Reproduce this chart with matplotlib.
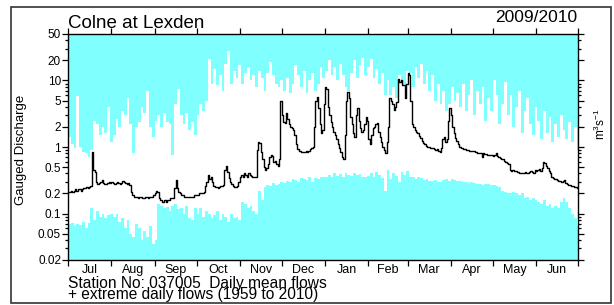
"""Colne at Lexden 2009/2010 hydrograph with extreme daily flows."""

import numpy as np
import matplotlib

matplotlib.use("Agg")
import matplotlib.pyplot as plt
from matplotlib.patches import Rectangle
from matplotlib.ticker import FixedLocator, LogLocator, NullFormatter

plt.rcParams["font.family"] = ["Liberation Sans", "DejaVu Sans"]
plt.rcParams["mathtext.fontset"] = "custom"
plt.rcParams["mathtext.rm"] = "Liberation Sans"
plt.rcParams["mathtext.it"] = "Liberation Sans"

months = ["Jul", "Aug", "Sep", "Oct", "Nov", "Dec", "Jan", "Feb", "Mar", "Apr", "May", "Jun"]
month_days = [31, 31, 30, 31, 30, 31, 31, 28, 31, 30, 31, 30]

ytick_values = [0.02, 0.05, 0.1, 0.2, 0.5, 1, 2, 5, 10, 20, 50]
ytick_labels = ["0.02", "0.05", "0.1", "0.2", "0.5", "1", "2", "5", "10", "20", "50"]

# daily mean flow, m3/s, 1 Jul 2009 - 30 Jun 2010
mean_jul = [0.21, 0.21, 0.22, 0.21, 0.22, 0.23, 0.22, 0.23, 0.23, 0.22,
            0.23, 0.24, 0.24, 0.25, 0.24, 0.25, 0.26, 0.85, 0.45, 0.42,
            0.30, 0.28, 0.29, 0.30, 0.32, 0.29, 0.28, 0.28, 0.29, 0.30, 0.29]
mean_aug = [0.30, 0.29, 0.28, 0.29, 0.30, 0.29, 0.28, 0.29, 0.31, 0.30, 0.29, 0.28, 0.29, 0.27,
            0.21, 0.19, 0.18, 0.18, 0.18, 0.17, 0.18, 0.18, 0.17, 0.17, 0.18, 0.18, 0.17, 0.18,
            0.18, 0.18, 0.19]
mean_sep = [0.20, 0.22, 0.21, 0.17, 0.16, 0.15, 0.15, 0.16, 0.15, 0.16, 0.16, 0.17, 0.17,
            0.17, 0.24, 0.32, 0.24, 0.21,
            0.20, 0.19, 0.19, 0.18, 0.18, 0.18, 0.18, 0.18, 0.18, 0.18, 0.19, 0.19]
mean_oct = [0.19, 0.19, 0.20, 0.20, 0.20, 0.21, 0.26, 0.30, 0.38, 0.33, 0.36, 0.30,
            0.26, 0.25, 0.25, 0.24, 0.25, 0.26, 0.26, 0.27, 0.45, 0.51, 0.42,
            0.34, 0.30, 0.28, 0.26, 0.25, 0.25, 0.26, 0.30]
mean_nov = [0.36, 0.38, 0.35, 0.40, 0.38, 0.36, 0.40, 0.38, 0.37, 0.36, 0.35, 0.36,
            0.90, 1.20, 1.15, 0.85, 0.65, 0.50, 0.45, 0.48, 0.55, 0.70, 0.75, 0.72,
            0.60, 0.62, 0.55, 0.52, 0.65, 5.0]
mean_dec = [3.0, 2.4, 2.3, 3.3, 2.6, 2.2, 2.0, 1.9, 1.8, 1.5,
            1.1, 0.92, 0.88, 0.86, 0.85, 0.83, 0.85, 0.88, 0.85, 0.88,
            0.92, 0.95, 1.0, 2.0, 5.0, 5.7, 3.8, 2.2, 1.6, 1.8, 4.5]
mean_jan = [8.0, 7.5, 4.0, 3.0, 2.4, 2.0, 1.7, 1.5, 1.3, 1.1,
            0.95, 0.85, 0.70, 0.65, 1.5, 5.0, 6.8, 5.5, 2.8, 2.2,
            1.6, 1.4, 3.0, 3.9, 2.5, 1.9, 1.7, 1.8, 2.2, 2.8, 2.5]
mean_feb = [1.3, 1.1, 1.5, 1.9, 2.0, 2.2, 2.3, 1.7, 1.4, 1.2,
            1.0, 0.9, 0.8, 1.2, 2.0, 5.5, 5.0, 4.5, 3.6, 4.0,
            4.8, 10.5, 9.5, 10.0, 8.5, 8.6, 5.5, 9.0]
mean_mar = [13.0, 12.0, 5.0, 2.2, 2.0, 1.8, 1.7, 1.6, 1.45, 1.35,
            1.25, 1.15, 1.1, 1.05, 1.0, 1.0, 0.98, 0.95, 0.95, 0.93,
            0.90, 0.92, 0.88, 0.85, 0.95, 1.3, 1.4, 1.2, 1.3, 2.5, 3.9]
mean_apr = [3.0, 2.0, 1.6, 1.35, 1.25, 1.1, 1.0, 0.98, 0.95, 0.93,
            0.92, 0.90, 0.90, 0.88, 0.87, 0.86, 0.86, 0.85, 0.83, 0.82,
            0.80, 0.82, 0.70, 0.80, 0.79, 0.78, 0.77, 0.76, 0.76, 0.75]
mean_may = [0.74, 0.75, 0.82, 0.72, 0.70, 0.68, 0.67, 0.66, 0.62, 0.60,
            0.58, 0.55, 0.45, 0.44, 0.45, 0.44, 0.43, 0.42, 0.42, 0.41,
            0.40, 0.40, 0.41, 0.42, 0.41, 0.40, 0.42, 0.43, 0.42, 0.41, 0.45]
mean_jun = [0.44, 0.45, 0.46, 0.44, 0.48, 0.60, 0.57, 0.52, 0.48, 0.44,
            0.40, 0.36, 0.34, 0.33, 0.33, 0.32, 0.31, 0.31, 0.30, 0.31,
            0.32, 0.29, 0.28, 0.27, 0.27, 0.26, 0.26, 0.25, 0.25, 0.24]

# extreme daily flows 1959-2010, read in two-day steps
max_flow = [1.4, 1.1, 0.95, 5.8, 1.0, 0.85, 0.8, 0.7, 0.9, 2.5, 2.2, 1.5, 2.0, 1.6, 4.0, 1.2,
            1.5, 2.6, 2.0, 3.5, 3.0, 5.5, 2.2, 0.8, 2.0, 2.4, 4.0, 3.2, 7.0, 2.0, 1.4,
            2.5, 3.0, 2.0, 3.2, 2.4, 2.2, 0.75, 4.5, 7.5, 3.0, 2.2, 3.2, 1.8, 2.4, 1.5,
            3.0, 4.4, 3.5, 5.0, 21, 9, 15, 8.5, 12, 7, 18, 28, 9, 14, 11, 17,
            9, 13, 16, 10, 12, 8, 14, 11, 7, 13, 19, 12, 9, 8, 10,
            7, 11, 6.5, 9, 17, 12, 8, 14, 6.5, 10, 13, 7, 9, 16, 11,
            14, 20, 12, 16, 10, 18, 12, 8, 7, 13, 20, 11, 17, 22, 12, 16,
            21, 11, 15, 9, 13, 6, 10, 6, 8, 5.5, 12, 10, 8.7, 14,
            13, 8, 16, 11, 18, 9, 14, 7, 12, 5, 9, 4.5, 7, 3.5, 4.5,
            8, 5, 6.5, 4, 9, 3.5, 6, 10, 3, 7, 4.5, 8, 2.5, 5.5, 3.5,
            10, 6, 2.2, 4.5, 9.5, 3, 6, 2.0, 4, 7, 1.6, 3.5, 5.5, 2.2, 1.5,
            4, 2.5, 1.3, 3.5, 1.6, 2.8, 1.2, 2.2, 1.4, 3.0, 1.8, 1.3, 2.4, 1.2, 2.0, 0.9]
min_flow = [0.07, 0.072, 0.065, 0.07, 0.068, 0.075, 0.06, 0.072, 0.12, 0.08, 0.11, 0.09, 0.1, 0.085, 0.095, 0.1,
            0.09, 0.1, 0.075, 0.085, 0.06, 0.08, 0.05, 0.045, 0.07, 0.06, 0.04, 0.055, 0.045, 0.065, 0.035,
            0.04, 0.14, 0.13, 0.12, 0.125, 0.11, 0.13, 0.14, 0.115, 0.12, 0.1, 0.13, 0.085, 0.08, 0.12,
            0.1, 0.12, 0.09, 0.11, 0.1, 0.085, 0.095, 0.11, 0.08, 0.1, 0.09, 0.075, 0.1, 0.085, 0.09, 0.08,
            0.15, 0.14, 0.12, 0.13, 0.11, 0.1, 0.22, 0.16, 0.25, 0.27, 0.26, 0.29, 0.27, 0.28, 0.3,
            0.29, 0.31, 0.3, 0.33, 0.32, 0.3, 0.34, 0.33, 0.32, 0.35, 0.3, 0.34, 0.33, 0.36, 0.35,
            0.36, 0.38, 0.35, 0.4, 0.37, 0.39, 0.36, 0.41, 0.38, 0.37, 0.4, 0.38, 0.39, 0.36, 0.35, 0.37,
            0.4, 0.36, 0.42, 0.38, 0.34, 0.22, 0.45, 0.33, 0.41, 0.37, 0.3, 0.42, 0.38, 0.43,
            0.36, 0.35, 0.33, 0.35, 0.34, 0.32, 0.33, 0.31, 0.31, 0.32, 0.3, 0.3, 0.32, 0.33, 0.31,
            0.33, 0.32, 0.31, 0.31, 0.3, 0.3, 0.29, 0.3, 0.29, 0.28, 0.28, 0.27, 0.28, 0.28, 0.27,
            0.27, 0.26, 0.25, 0.22, 0.21, 0.2, 0.2, 0.21, 0.2, 0.19, 0.2, 0.17, 0.18, 0.16, 0.17,
            0.16, 0.15, 0.14, 0.16, 0.13, 0.14, 0.12, 0.13, 0.12, 0.15, 0.17, 0.15, 0.12, 0.1, 0.085, 0.065]

CYAN = "#80ffff"

daily_mean = np.array(mean_jul + mean_aug + mean_sep + mean_oct + mean_nov + mean_dec
                      + mean_jan + mean_feb + mean_mar + mean_apr + mean_may + mean_jun)
n_days = sum(month_days)
assert len(daily_mean) == n_days
assert len(max_flow) == len(min_flow) == (n_days + 1) // 2

month_edges = np.concatenate([[0], np.cumsum(month_days)])
month_mid = (month_edges[:-1] + month_edges[1:]) / 2

fig = plt.figure(figsize=(6.14, 3.05), dpi=100)
ax = fig.add_axes([68 / 614, 45 / 305, 510 / 614, 226 / 305])

# extremes as two-day steps
x_ext = np.append(np.arange(0, n_days, 2), n_days)
ymax = np.append(max_flow, max_flow[-1])
ymin = np.append(min_flow, min_flow[-1])
ax.fill_between(x_ext, ymax, 50, step="post", color=CYAN, lw=0)
ax.fill_between(x_ext, 0.02, ymin, step="post", color=CYAN, lw=0)

x_day = np.arange(n_days + 1)
ax.step(x_day, np.append(daily_mean, daily_mean[-1]), where="post", color="black", lw=1.0)

ax.set_yscale("log")
ax.set_ylim(0.02, 50)
ax.set_xlim(0, n_days)
ax.yaxis.set_major_locator(FixedLocator(ytick_values))
ax.yaxis.set_minor_locator(LogLocator(base=10, subs=np.arange(1, 10)))
ax.yaxis.set_minor_formatter(NullFormatter())
ax.set_yticklabels(ytick_labels)

ax.xaxis.set_major_locator(FixedLocator(month_edges))
ax.xaxis.set_minor_locator(FixedLocator(month_mid))
ax.xaxis.set_major_formatter(NullFormatter())
ax.set_xticklabels(months, minor=True)

ax.tick_params(axis="both", which="both", direction="out", top=True, right=True,
               labelright=False, labeltop=False, width=0.9)
ax.tick_params(axis="both", which="major", length=4)
ax.tick_params(axis="y", which="minor", length=2)
ax.tick_params(axis="x", which="minor", length=0, pad=3, labelsize=9)
ax.tick_params(axis="y", which="major", labelsize=8.5, pad=1)
for s in ax.spines.values():
    s.set_linewidth(1.0)

fig.text(68 / 614, 1 - 27.5 / 305, "Colne at Lexden", fontsize=13.5, va="baseline")
fig.text(577 / 614, 1 - 22 / 305, "2009/2010", fontsize=12.5, va="baseline", ha="right")
fig.text(21 / 614, 1 - 150 / 305, "Gauged Discharge", fontsize=9.5, rotation=90,
         va="center", ha="center")
fig.text(600 / 614, 1 - 124 / 305, r"m$^{3}$s$^{-1}$", fontsize=8.5, rotation=90,
         va="center", ha="center")
fig.text(68 / 614, 1 - 299.5 / 305,
         "Station No: 037005  Daily mean flows\n+ extreme daily flows (1959 to 2010)",
         fontsize=11.2, va="baseline", linespacing=0.74)

fig.patches.append(Rectangle((11 / 614, 2 / 305), 600 / 614, 296 / 305, transform=fig.transFigure,
                             fill=False, edgecolor="#333333", lw=1.2))

fig.savefig("out.png", dpi=100)
plt.close(fig)
